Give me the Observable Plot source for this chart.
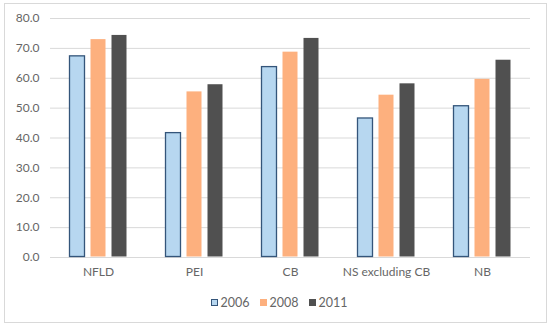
<!DOCTYPE html>
<html><head><meta charset="utf-8">
<script src="https://cdn.jsdelivr.net/npm/d3@7"></script>
<script src="https://cdn.jsdelivr.net/npm/@observablehq/plot@0.6"></script>
<style>
body{margin:0;background:#fff;font-family:Lato,"Open Sans",sans-serif;}
#wrap{position:relative;width:550px;height:326px;}
#frame{position:absolute;left:4px;top:3px;width:541px;height:318px;border:1px solid #d9d9d9;pointer-events:none;}
#legend{position:absolute;left:0;top:295px;width:550px;display:flex;justify-content:center;gap:10px;font-size:12.5px;color:#666666;padding-left:8px;box-sizing:border-box;}
#legend span{display:inline-flex;align-items:center;gap:3px;}
#legend i{display:inline-block;width:7px;height:7px;box-sizing:border-box;}
</style></head>
<body><div id="wrap"><div id="chart"></div><div id="legend"></div><div id="frame"></div></div>
<script>
const categories = ["NFLD", "PEI", "CB", "NS excluding CB", "NB"];
const years = ["2006", "2008", "2011"];
const v2006 = [67.5, 41.8, 63.9, 46.7, 50.8];
const v2008 = [73.1, 55.6, 68.9, 54.5, 59.8];
const v2011 = [74.5, 58.0, 73.5, 58.3, 66.2];
const yTicks = [0, 10, 20, 30, 40, 50, 60, 70, 80];
const fills = ["#B7D7F0", "#FDB07E", "#505050"];
const strokes = ["#34557A", "none", "none"];

const series = [v2006, v2008, v2011];
const data = [];
categories.forEach((c, i) => years.forEach((y, j) => data.push({cat: c, year: y, value: series[j][i]})));

const chart = Plot.plot({
  width: 550, height: 290,
  marginLeft: 48, marginRight: 19, marginTop: 18, marginBottom: 33,
  style: {fontFamily: "Lato, 'Open Sans', sans-serif", fontSize: "12px", color: "#666666", background: "white"},
  fx: {domain: categories, padding: 0, label: null, axis: "bottom", tickSize: 0, tickPadding: 10},
  x: {domain: years, paddingInner: 0.23, paddingOuter: 0.86, axis: null},
  y: {domain: [0, 80], ticks: yTicks, tickFormat: d => d.toFixed(1), label: null, tickSize: 0, tickPadding: 11},
  color: {domain: years, range: fills},
  marks: [
    Plot.gridY(yTicks, {stroke: "#d9d9d9", strokeOpacity: 1}),
    Plot.barY(data, {fx: "cat", x: "year", y: "value", fill: "year",
      stroke: d => d.year === "2006" ? strokes[0] : "none", strokeWidth: 1.3, inset: 0.5}),
  ]
});
document.getElementById("chart").appendChild(chart);

const lg = document.getElementById("legend");
years.forEach((y, j) => {
  const s = document.createElement("span");
  const sw = document.createElement("i");
  sw.style.background = fills[j];
  if (strokes[j] !== "none") sw.style.border = "1px solid " + strokes[j];
  s.appendChild(sw);
  s.appendChild(document.createTextNode(y));
  lg.appendChild(s);
});
</script></body></html>
